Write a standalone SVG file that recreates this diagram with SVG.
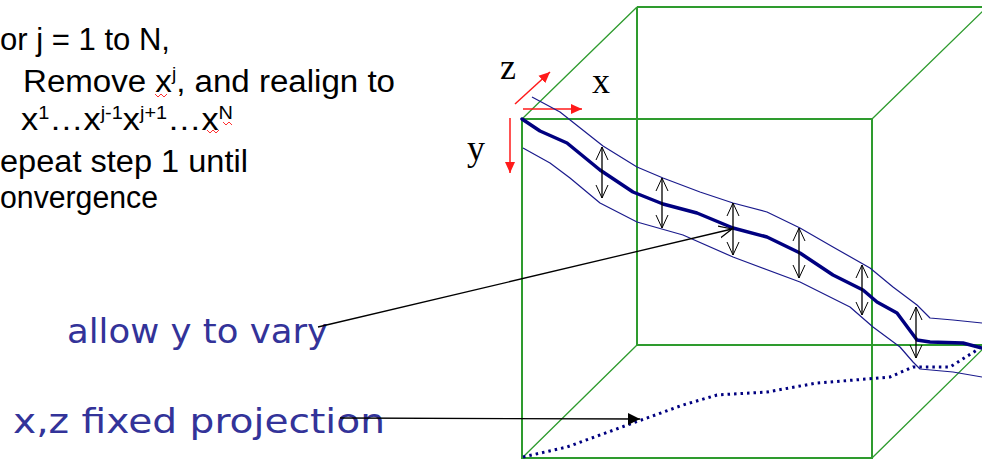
<svg xmlns="http://www.w3.org/2000/svg" width="982" height="460" viewBox="0 0 982 460">
<style>
.step{font-family:"Liberation Sans",Arial,sans-serif;font-size:31px;fill:#000}
.lbl{font-family:"DejaVu Sans","Liberation Sans",sans-serif;font-size:33px;fill:#333399}
.ax{font-family:"Liberation Serif","Times New Roman",serif;font-size:36px;fill:#000}
.face{stroke:#2e9b2e;stroke-width:2;fill:none}
.diag{stroke:#2e9b2e;stroke-width:1.3;fill:none}
.red{stroke:#ff1a1a;stroke-width:1.5;fill:none}
.thick{stroke:#000080;stroke-width:3.5;fill:none;stroke-linejoin:round;stroke-linecap:round}
.thin{stroke:#1a1a8c;stroke-width:1.2;fill:none;stroke-linejoin:round}
.dots{stroke:#000080;stroke-width:3;fill:none;stroke-dasharray:2.5 4}
.dbl{stroke:#000;stroke-width:1.3;fill:none;marker-start:url(#v);marker-end:url(#v)}
.squig{stroke:#ff3030;stroke-width:1;fill:none}
</style>
<defs>
<marker id="v" markerUnits="userSpaceOnUse" markerWidth="14" markerHeight="14" refX="13" refY="6" orient="auto-start-reverse" viewBox="0 0 14 12">
<path d="M0,0 L13,6 L0,12" fill="none" stroke="#000" stroke-width="1"/>
</marker>
<marker id="vopen" markerUnits="userSpaceOnUse" markerWidth="14" markerHeight="14" refX="13" refY="6" orient="auto" viewBox="0 0 14 12">
<path d="M0,0 L13,6 L0,12" fill="none" stroke="#000" stroke-width="1.2"/>
</marker>
<marker id="tri" markerUnits="userSpaceOnUse" markerWidth="14" markerHeight="14" refX="12" refY="6" orient="auto" viewBox="0 0 14 12">
<path d="M0,0 L12,6 L0,12 Z" fill="#000"/>
</marker>
<marker id="rtri" markerUnits="userSpaceOnUse" markerWidth="12" markerHeight="12" refX="11" refY="5" orient="auto" viewBox="0 0 12 10">
<path d="M0,0 L11,5 L0,10 Z" fill="#ff1a1a"/>
</marker>
</defs>
<rect width="982" height="460" fill="#fff"/>

<g id="text-steps">
<text class="step" x="0" y="50" textLength="170" lengthAdjust="spacingAndGlyphs">or j = 1 to N,</text>
<text class="step" x="23" y="92" textLength="372" lengthAdjust="spacingAndGlyphs">Remove x<tspan font-size="18" dy="-12">j</tspan><tspan dy="12">, and realign to</tspan></text>
<text class="step" x="21" y="130" textLength="212" lengthAdjust="spacingAndGlyphs">x<tspan font-size="18" dy="-11">1</tspan><tspan dy="11">…x</tspan><tspan font-size="18" dy="-11">j-1</tspan><tspan dy="11">x</tspan><tspan font-size="18" dy="-11">j+1</tspan><tspan dy="11">…x</tspan><tspan font-size="18" dy="-11">N</tspan></text>
<text class="step" x="0" y="172" textLength="248" lengthAdjust="spacingAndGlyphs">epeat step 1 until</text>
<text class="step" x="0" y="208" textLength="158" lengthAdjust="spacingAndGlyphs">onvergence</text>
<polyline class="squig" points="155,94 158,97 161,94 164,97 167,94"/>
<polyline class="squig" points="207,130 210,133 213,130 216,133 219,130"/>
<polyline class="squig" points="223,122 226,125 229,122 232,125"/>
</g>

<g id="label-allow"><text class="lbl" x="67" y="343" textLength="261" lengthAdjust="spacingAndGlyphs">allow y to vary</text></g>
<g id="label-fixed"><text class="lbl" x="13" y="433" textLength="372" lengthAdjust="spacingAndGlyphs">x,z fixed projection</text></g>

<g id="cube">
<path class="face" d="M637,7 H990 M637,7 V345 H990"/>
<rect class="face" x="522" y="119" width="350" height="339"/>
<path class="diag" d="M522,119 L637,7 M872,119 L987,7 M522,458 L637,345 M872,458 L987,345"/>
</g>

<g id="axes">
<line class="red" x1="515" y1="104" x2="550" y2="72" marker-end="url(#rtri)"/>
<line class="red" x1="523" y1="109" x2="582" y2="109" marker-end="url(#rtri)"/>
<line class="red" x1="510" y1="118" x2="510" y2="173" marker-end="url(#rtri)"/>
<text class="ax" x="500" y="79">z</text>
<text class="ax" x="592" y="93">x</text>
<text class="ax" x="467" y="160">y</text>
</g>

<g id="curves">
<polyline class="thin" points="532,97 560,112 603,146 637,167 663,178 700,192 733,203 767,212 800,228 833,247 870,268 893,287 917,305 930,318 953,320 982,323"/>
<polyline class="thin" points="523,148 550,163 570,178 600,203 637,222 683,235 733,257 800,282 850,307 873,327 900,347 913,362 920,369 953,372 982,377"/>
<polyline class="thick" points="522,119 540,131 567,143 600,170 633,192 663,204 697,213 733,228 767,237 800,253 833,275 863,290 877,302 897,313 917,340 930,342 963,343 982,348"/>
<polyline class="dots" points="523,457 567,447 633,423 683,405 717,395 767,392 817,383 867,379 890,377 913,367 950,367 977,350 982,345"/>
<line class="dbl" x1="602" y1="147" x2="602" y2="198"/>
<line class="dbl" x1="662" y1="178" x2="662" y2="228"/>
<line class="dbl" x1="733" y1="203" x2="733" y2="255"/>
<line class="dbl" x1="799" y1="228" x2="799" y2="278"/>
<line class="dbl" x1="862" y1="265" x2="862" y2="315"/>
<line class="dbl" x1="916" y1="307" x2="916" y2="358"/>
</g>

<g id="connectors">
<line x1="318" y1="327" x2="732" y2="229" stroke="#000" stroke-width="1.3" marker-end="url(#vopen)"/>
<line x1="340" y1="418" x2="640" y2="419" stroke="#000" stroke-width="1.3" marker-end="url(#tri)"/>
</g>
</svg>
